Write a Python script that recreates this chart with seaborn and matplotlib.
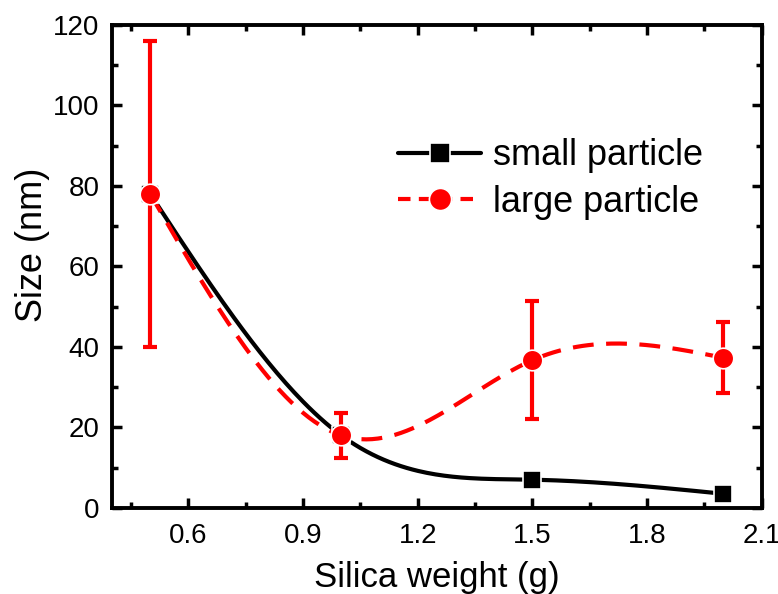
import numpy as np
import pandas as pd
import seaborn as sns
import matplotlib.pyplot as plt
from matplotlib.lines import Line2D

# data
silica = [0.5, 1.0, 1.5, 2.0]
small_size = [78, 18, 7, 3.5]
large_size = [78, 18, 36.7, 37.3]
large_err = [38, 5.5, 14.7, 8.8]


def natural_spline(x, y, n=200):
    # natural cubic spline through the points (like Origin's spline connect)
    x = np.asarray(x, float)
    y = np.asarray(y, float)
    h = np.diff(x)
    k = len(x)
    A = np.zeros((k, k))
    b = np.zeros(k)
    A[0, 0] = A[-1, -1] = 1
    for i in range(1, k - 1):
        A[i, i - 1] = h[i - 1]
        A[i, i] = 2 * (h[i - 1] + h[i])
        A[i, i + 1] = h[i]
        b[i] = 6 * ((y[i + 1] - y[i]) / h[i] - (y[i] - y[i - 1]) / h[i - 1])
    M = np.linalg.solve(A, b)
    xs = np.linspace(x[0], x[-1], n)
    idx = np.clip(np.searchsorted(x, xs) - 1, 0, k - 2)
    x0, x1 = x[idx], x[idx + 1]
    hh = x1 - x0
    t0, t1 = x1 - xs, xs - x0
    ys = (M[idx] * t0 ** 3 + M[idx + 1] * t1 ** 3) / (6 * hh) \
        + (y[idx] / hh - M[idx] * hh / 6) * t0 + (y[idx + 1] / hh - M[idx + 1] * hh / 6) * t1
    return xs, ys


sns.set_style("ticks")
plt.rcParams['font.family'] = ['Liberation Sans', 'DejaVu Sans']
for key in ['text.color', 'axes.labelcolor', 'xtick.color', 'ytick.color', 'axes.edgecolor']:
    plt.rcParams[key] = 'black'

fig = plt.figure(figsize=(7.78, 5.94), dpi=100)
ax = fig.add_axes([0.144, 0.145, 0.835, 0.813])

xs, ys = natural_spline(silica, small_size)
sns.lineplot(x=xs, y=ys, ax=ax, color='black', lw=3, zorder=2)
xs, ys = natural_spline(silica, large_size)
sns.lineplot(x=xs, y=ys, ax=ax, color='red', lw=3, zorder=3)
ax.lines[-1].set_dashes([5, 3])

ax.errorbar(silica, large_size, yerr=large_err, fmt='none', ecolor='red',
            elinewidth=3, capsize=5, capthick=3, zorder=4)

df = pd.DataFrame({'x': silica, 'small': small_size, 'large': large_size})
sns.scatterplot(data=df, x='x', y='small', ax=ax, marker='s', s=170, color='black',
                edgecolor='white', linewidth=1.2, zorder=5)
sns.scatterplot(data=df, x='x', y='large', ax=ax, marker='o', s=220, color='red',
                edgecolor='white', linewidth=1.2, zorder=6)

ax.set_xlim(0.4, 2.1)
ax.set_ylim(0, 120)
ax.set_xticks(np.arange(0.6, 2.11, 0.3))
ax.set_xticks(np.arange(0.45, 2.11, 0.15), minor=True)
ax.set_yticks(np.arange(0, 121, 20))
ax.set_yticks(np.arange(0, 121, 10), minor=True)
ax.set_xticklabels(['0.6', '0.9', '1.2', '1.5', '1.8', '2.1'])
ax.tick_params(which='both', direction='in', top=True, right=True, width=2.5,
               labelsize=20)
ax.tick_params(axis='x', pad=11)
ax.tick_params(axis='y', pad=9)
ax.tick_params(which='major', length=7)
ax.tick_params(which='minor', length=4)
for sp in ax.spines.values():
    sp.set_linewidth(2.8)

ax.set_xlabel('Silica weight (g)', fontsize=25)
ax.set_ylabel('Size (nm)', fontsize=26)
ax.xaxis.set_label_coords(0.5, -0.111)
ax.yaxis.set_label_coords(-0.095, 0.545)

handles = [
    Line2D([], [], color='black', lw=3, marker='s', markersize=14,
           markeredgecolor='white', markeredgewidth=1.2),
    Line2D([], [], color='red', lw=3, dashes=[3, 2], marker='o', markersize=16,
           markeredgecolor='white', markeredgewidth=1.2),
]
ax.legend(handles, ['small particle', 'large particle'], loc='upper left',
          bbox_to_anchor=(0.413, 0.803), frameon=False, fontsize=26, borderpad=0,
          handlelength=2.3, handletextpad=0.33, labelspacing=0.33)

fig.savefig('out.png', dpi=100)
